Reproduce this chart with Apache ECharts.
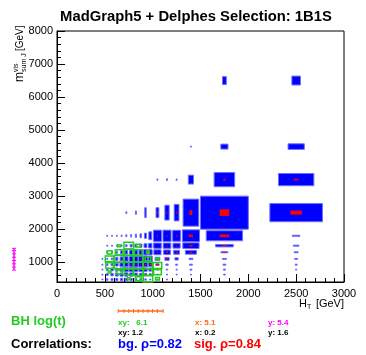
<!DOCTYPE html>
<html>
<head>
<meta charset="utf-8">
<script src="https://cdn.jsdelivr.net/npm/echarts@6/dist/echarts.min.js"></script>
<style>
  html, body { margin: 0; padding: 0; background: #fff; }
  #main { width: 366px; height: 355px; }
</style>
</head>
<body>
<div id="main"></div>
<script>
// bin edges (GeV)
const xEdges = [400, 450, 500, 550, 600, 650, 700, 750, 800, 850, 900, 950, 1000, 1100, 1200, 1300, 1500, 2000, 3000];
const yEdges = [400, 550, 700, 850, 1000, 1200, 1400, 1600, 2000, 3000, 4000, 5000, 8000];

// relative box size per bin, rows from bottom (y) to top, columns follow xEdges
const bgSize = [
  [0, 0.1, 0.3, 0.4, 0.45, 0.5, 0.5, 0.45, 0.4, 0.35, 0.3, 0.2, 0.05, 0.04, 0, 0, 0, 0],
  [0, 0.12, 0.4, 0.5, 0.6, 0.65, 0.7, 0.65, 0.6, 0.55, 0.5, 0.4, 0.1, 0.08, 0.06, 0.05, 0.03, 0],
  [0, 0.1, 0.35, 0.5, 0.6, 0.7, 0.8, 0.85, 0.8, 0.75, 0.7, 0.6, 0.2, 0.15, 0.12, 0.1, 0.04, 0.01],
  [0, 0.08, 0.3, 0.4, 0.55, 0.7, 0.8, 0.85, 0.9, 0.9, 0.85, 0.8, 0.35, 0.25, 0.2, 0.15, 0.06, 0.02],
  [0, 0.05, 0.2, 0.3, 0.45, 0.6, 0.7, 0.8, 0.85, 0.9, 0.9, 0.85, 0.5, 0.45, 0.35, 0.2, 0.08, 0.03],
  [0, 0, 0.12, 0.2, 0.3, 0.45, 0.55, 0.65, 0.7, 0.75, 0.8, 0.8, 0.75, 0.7, 0.6, 0.58, 0.15, 0.04],
  [0, 0, 0.06, 0.1, 0.15, 0.2, 0.3, 0.4, 0.45, 0.5, 0.6, 0.7, 0.8, 0.8, 0.75, 0.85, 0.37, 0.06],
  [0, 0, 0.04, 0.05, 0.08, 0.1, 0.15, 0.2, 0.25, 0.3, 0.4, 0.6, 0.85, 0.85, 0.83, 0.9, 0.76, 0.08],
  [0, 0, 0, 0, 0, 0, 0.05, 0, 0.1, 0, 0.3, 0, 0.3, 0.45, 0.5, 0.82, 1.0, 0.55],
  [0, 0, 0, 0, 0, 0, 0, 0, 0, 0, 0, 0, 0.04, 0.05, 0.04, 0.27, 0.43, 0.37],
  [0, 0, 0, 0, 0, 0, 0, 0, 0, 0, 0, 0, 0, 0, 0, 0.03, 0.15, 0.17],
  [0, 0, 0, 0, 0, 0, 0, 0, 0, 0, 0, 0, 0, 0, 0, 0, 0.08, 0.09]
];

const sigSize = [
  [0, 0, 0, 0, 0, 0, 0, 0, 0, 0, 0, 0, 0, 0, 0, 0, 0, 0],
  [0, 0, 0, 0, 0, 0, 0, 0, 0, 0, 0, 0, 0, 0, 0, 0, 0, 0],
  [0, 0, 0, 0, 0, 0.1, 0.1, 0.15, 0, 0.15, 0.2, 0.2, 0, 0, 0, 0, 0, 0],
  [0, 0, 0, 0, 0, 0, 0, 0.1, 0.15, 0.2, 0.3, 0.35, 0.3, 0, 0, 0, 0, 0],
  [0, 0, 0, 0, 0, 0, 0, 0, 0, 0.1, 0.2, 0.25, 0.25, 0.2, 0, 0, 0, 0],
  [0, 0, 0, 0, 0, 0, 0, 0, 0, 0, 0, 0, 0.15, 0.2, 0.2, 0.16, 0.08, 0],
  [0, 0, 0, 0, 0, 0, 0, 0, 0, 0, 0, 0, 0, 0.1, 0.1, 0.2, 0.12, 0],
  [0, 0, 0, 0, 0, 0, 0, 0, 0, 0, 0, 0, 0.1, 0.1, 0.1, 0.2, 0.2, 0],
  [0, 0, 0, 0, 0, 0, 0, 0, 0, 0, 0, 0, 0.05, 0.05, 0.05, 0.15, 0.2, 0.12],
  [0, 0, 0, 0, 0, 0, 0, 0, 0, 0, 0, 0, 0, 0, 0, 0, 0.05, 0.05],
  [0, 0, 0, 0, 0, 0, 0, 0, 0, 0, 0, 0, 0, 0, 0, 0, 0, 0],
  [0, 0, 0, 0, 0, 0, 0, 0, 0, 0, 0, 0, 0, 0, 0, 0, 0, 0]
];

// black-hole sample, coarser bins, drawn hollow
const bhXEdges = [500, 600, 700, 800, 900, 1000, 1100];
const bhYEdges = [400, 600, 800, 1000, 1200, 1400, 1600];
const bhSize = [
  [0, 0, 0.3, 0.6, 1.0, 0.4],
  [0.3, 0.6, 0.9, 1.0, 1.0, 0.8],
  [0.8, 1.0, 1.0, 1.0, 0.95, 0.9],
  [0.9, 1.0, 1.0, 0.9, 0.6, 0.3],
  [0.5, 0.8, 0.9, 0.8, 0.3, 0],
  [0, 0.3, 1.0, 0.4, 0, 0]
];

// projections drawn outside the frame
const bhYRange = [760, 1420];
const bhYMarks = [760, 850, 950, 1050, 1150, 1250, 1350, 1420];
const bhXRange = [640, 1110];
const bhXMarks = [640, 700, 750, 800, 850, 900, 950, 1000, 1050, 1110];

const yMajor = [1000, 2000, 3000, 4000, 5000, 6000, 7000, 8000];
const yMinor = [600, 800, 1200, 1400, 1600, 1800, 2200, 2400, 2600, 2800, 3200, 3400, 3600, 3800,
  4200, 4400, 4600, 4800, 5200, 5400, 5600, 5800, 6200, 6400, 6600, 6800, 7200, 7400, 7600, 7800];

const FONT = '"Liberation Sans", Arial, Helvetica, sans-serif';

function boxes(xe, ye, m) {
  const out = [];
  m.forEach((row, j) => row.forEach((r, i) => {
    if (r > 0) out.push([(xe[i] + xe[i + 1]) / 2, (ye[j] + ye[j + 1]) / 2, xe[i + 1] - xe[i], ye[j + 1] - ye[j], r]);
  }));
  return out;
}

function boxRenderer(style) {
  return function (params, api) {
    const xc = api.value(0), yc = api.value(1);
    const hw = api.value(2) * api.value(4) / 2, hh = api.value(3) * api.value(4) / 2;
    const p0 = api.coord([xc - hw, yc + hh]);
    const p1 = api.coord([xc + hw, yc - hh]);
    const bw = Math.max(p1[0] - p0[0], 1), bh = Math.max(p1[1] - p0[1], 1);
    return {
      type: 'rect',
      shape: { x: (p0[0] + p1[0]) / 2 - bw / 2, y: (p0[1] + p1[1]) / 2 - bh / 2, width: bw, height: bh },
      style: style
    };
  };
}

let myChart = echarts.init(document.getElementById('main'));
let option;

option = {
  animation: false,
  grid: { left: 57, right: 22, top: 31, bottom: 73, show: true, borderColor: '#000', borderWidth: 1 },
  xAxis: {
    type: 'value', min: 0, max: 3000, interval: 500,
    axisLine: { lineStyle: { color: '#000', width: 1 } },
    axisTick: { inside: true, length: 8, lineStyle: { color: '#000' } },
    minorTick: { show: true, splitNumber: 5, length: 4, lineStyle: { color: '#000' } },
    splitLine: { show: false },
    axisLabel: { color: '#000', fontSize: 11, fontFamily: FONT, margin: 6, formatter: v => String(v) }
  },
  yAxis: [{
    type: 'value', min: 400, max: 8000,
    axisLine: { lineStyle: { color: '#000', width: 1 } },
    axisTick: { inside: true, length: 8, customValues: yMajor, lineStyle: { color: '#000' } },
    splitLine: { show: false },
    axisLabel: { color: '#000', fontSize: 11, fontFamily: FONT, margin: 4, customValues: yMajor, formatter: v => String(v) }
  }, {
    type: 'value', min: 400, max: 8000, position: 'left',
    axisLine: { show: false },
    axisTick: { inside: true, length: 4, customValues: yMinor, lineStyle: { color: '#000' } },
    splitLine: { show: false },
    axisLabel: { show: false }
  }],
  series: [{
    type: 'custom', name: 'bg',
    data: boxes(xEdges, yEdges, bgSize),
    encode: { x: 0, y: 1 },
    renderItem: boxRenderer({ fill: '#0000ff', stroke: '#7070ff', lineWidth: 1 })
  }, {
    type: 'custom', name: 'sig',
    data: boxes(xEdges, yEdges, sigSize),
    encode: { x: 0, y: 1 },
    renderItem: boxRenderer({ fill: '#ff0000' })
  }, {
    type: 'custom', name: 'BH',
    data: boxes(bhXEdges, bhYEdges, bhSize),
    encode: { x: 0, y: 1 },
    renderItem: boxRenderer({ fill: 'none', stroke: '#22cc22', lineWidth: 1.5 })
  }, {
    type: 'custom', name: 'BH y', clip: false, silent: true,
    data: [bhYRange],
    renderItem: function (params, api) {
      const top = api.coord([0, api.value(1)]), bot = api.coord([0, api.value(0)]);
      const x = top[0] - 43;
      const kids = [{ type: 'line', shape: { x1: x, y1: top[1], x2: x, y2: bot[1] }, style: { stroke: '#ff00ff', lineWidth: 1.5 } }];
      bhYMarks.forEach(v => {
        const p = api.coord([0, v]);
        kids.push({ type: 'line', shape: { x1: x - 2, y1: p[1], x2: x + 2, y2: p[1] }, style: { stroke: '#ff00ff', lineWidth: 1 } });
      });
      return { type: 'group', children: kids };
    }
  }, {
    type: 'custom', name: 'BH x', clip: false, silent: true,
    data: [bhXRange],
    renderItem: function (params, api) {
      const l = api.coord([api.value(0), 400]), r = api.coord([api.value(1), 400]);
      const y = l[1] + 29;
      const kids = [{ type: 'line', shape: { x1: l[0], y1: y, x2: r[0], y2: y }, style: { stroke: '#ff6a1a', lineWidth: 1.5 } }];
      bhXMarks.forEach(v => {
        const p = api.coord([v, 400]);
        kids.push({ type: 'line', shape: { x1: p[0], y1: y - 2, x2: p[0], y2: y + 2 }, style: { stroke: '#ff6a1a', lineWidth: 1 } });
      });
      return { type: 'group', children: kids };
    }
  }],
  graphic: [
    { type: 'text', x: 196, y: 17, style: { text: 'MadGraph5 + Delphes Selection: 1B1S', align: 'center', verticalAlign: 'middle', font: 'bold 14.8px ' + FONT, fill: '#000' } },
    { type: 'group', x: 20, y: 82, rotation: Math.PI / 2, children: [
      { type: 'text', x: 0, y: 0, style: { text: 'm', verticalAlign: 'middle', font: '12px ' + FONT, fill: '#000' } },
      { type: 'text', x: 10, y: -4, style: { text: 'vis', verticalAlign: 'middle', font: '7px ' + FONT, fill: '#000' } },
      { type: 'text', x: 10, y: 4, style: { text: 'sum J', verticalAlign: 'middle', font: '7px ' + FONT, fill: '#000' } },
      { type: 'text', x: 31, y: 0, style: { text: '[GeV]', verticalAlign: 'middle', font: '10px ' + FONT, fill: '#000' } }
    ] },
    { type: 'text', x: 344, y: 304, style: { text: '[GeV]', align: 'right', verticalAlign: 'middle', font: '11px ' + FONT, fill: '#000' } },
    { type: 'text', x: 307, y: 307, style: { text: 'T', verticalAlign: 'middle', font: '7px ' + FONT, fill: '#000' } },
    { type: 'text', x: 299, y: 304, style: { text: 'H', verticalAlign: 'middle', font: '11px ' + FONT, fill: '#000' } },
    { type: 'text', x: 11, y: 321, style: { text: 'BH log(t)', verticalAlign: 'middle', font: 'bold 13px ' + FONT, fill: '#22cc22' } },
    { type: 'text', x: 118, y: 323, style: { text: 'xy:   6.1', verticalAlign: 'middle', font: 'bold 8px ' + FONT, fill: '#22cc22' } },
    { type: 'text', x: 195, y: 323, style: { text: 'x: 5.1', verticalAlign: 'middle', font: 'bold 8px ' + FONT, fill: '#ff6a1a' } },
    { type: 'text', x: 268, y: 323, style: { text: 'y: 5.4', verticalAlign: 'middle', font: 'bold 8px ' + FONT, fill: '#ff00ff' } },
    { type: 'text', x: 118, y: 333, style: { text: 'xy: 1.2', verticalAlign: 'middle', font: 'bold 8px ' + FONT, fill: '#000' } },
    { type: 'text', x: 195, y: 333, style: { text: 'x: 0.2', verticalAlign: 'middle', font: 'bold 8px ' + FONT, fill: '#000' } },
    { type: 'text', x: 268, y: 333, style: { text: 'y: 1.6', verticalAlign: 'middle', font: 'bold 8px ' + FONT, fill: '#000' } },
    { type: 'text', x: 11, y: 344, style: { text: 'Correlations:', verticalAlign: 'middle', font: 'bold 13px ' + FONT, fill: '#000' } },
    { type: 'text', x: 118, y: 344, style: { text: 'bg. \u03c1=0.82', verticalAlign: 'middle', font: 'bold 13px ' + FONT, fill: '#0000ff' } },
    { type: 'text', x: 194, y: 344, style: { text: 'sig. \u03c1=0.84', verticalAlign: 'middle', font: 'bold 13px ' + FONT, fill: '#ff0000' } }
  ]
};

option && myChart.setOption(option);
</script>
</body>
</html>
